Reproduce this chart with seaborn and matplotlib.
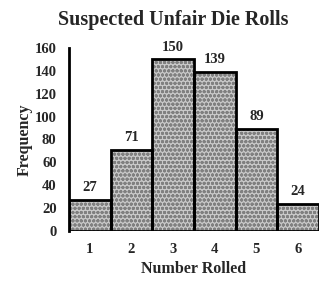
import matplotlib
matplotlib.use("Agg")
import matplotlib.pyplot as plt
import seaborn as sns
import pandas as pd

categories = ["1", "2", "3", "4", "5", "6"]
frequencies = [27, 71, 150, 139, 89, 24]
yticks = [0, 20, 40, 60, 80, 100, 120, 140, 160]

sns.set_style("white")
plt.rcParams['font.family'] = ['Liberation Serif', 'DejaVu Serif']
plt.rcParams['font.weight'] = 'bold'

df = pd.DataFrame({"Number Rolled": categories, "Frequency": frequencies})

fig = plt.figure(figsize=(3.34, 2.89), dpi=100)
ax = fig.add_axes([0.2066, 0.2007, 0.7484, 0.6333])

# textured fill layer
sns.barplot(data=df, x="Number Rolled", y="Frequency", ax=ax, width=1.0,
            color="#c8c8c8", saturation=1, linewidth=0, hatch="oooo", edgecolor="#808080")
# outline layer
sns.barplot(data=df, x="Number Rolled", y="Frequency", ax=ax, width=1.0,
            fill=False, linewidth=2.0, edgecolor="black")

for i, v in enumerate(frequencies):
    ax.text(i, v + 5, str(v), ha="center", va="bottom", fontsize=10.5, fontweight="bold")

ax.set_xlim(-0.5, 5.5)
ax.set_ylim(0, 160)
ax.set_yticks(yticks)
ax.set_yticklabels([str(t) for t in yticks], fontsize=10.5, fontweight="bold")
ax.set_xticks(range(len(categories)))
ax.set_xticklabels(categories, fontsize=10.5, fontweight="bold")
ax.tick_params(axis="both", length=0)
ax.tick_params(axis="x", pad=9)
ax.tick_params(axis="y", pad=9)

for s in ["top", "right", "bottom"]:
    ax.spines[s].set_visible(False)
ax.spines["left"].set_linewidth(2.0)
ax.spines["left"].set_color("black")

ax.set_xlabel("Number Rolled", fontsize=11.5, fontweight="bold", labelpad=3)
ax.set_ylabel("Frequency", fontsize=11.5, fontweight="bold", labelpad=1)
fig.text(0.52, 0.93, "Suspected Unfair Die Rolls", ha="center", va="center",
         fontsize=14.5, fontweight="bold")

fig.savefig("out.png", dpi=100)
